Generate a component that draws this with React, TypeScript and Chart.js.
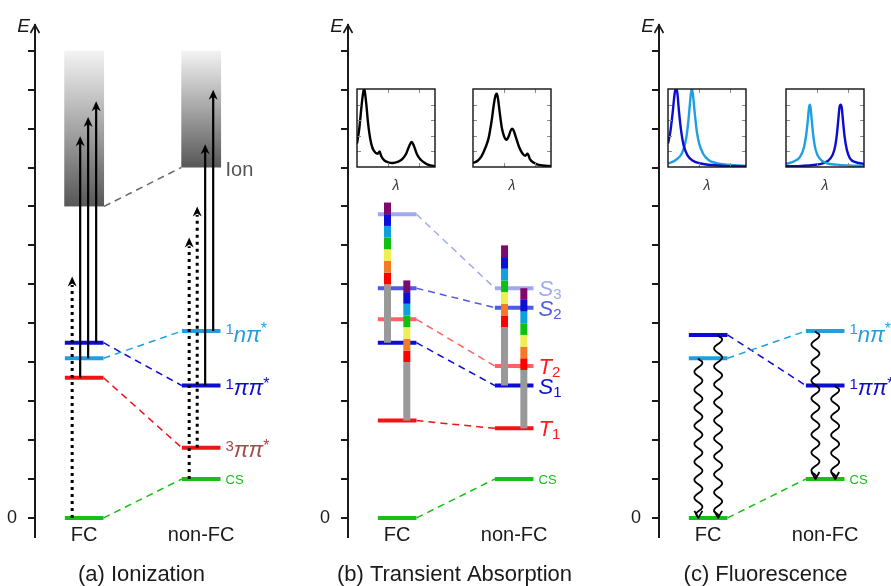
import React, { useEffect, useRef } from 'react';
import { Chart, registerables } from 'chart.js';

Chart.register(...registerables);

const FONT = '"Liberation Sans", Arial, sans-serif';
const INK = '#1a1a1a';

// ---------- categories / axis ----------
const STATES = ['FC', 'non-FC'];
const STATE_X = [1, 3];
const ZERO_LABEL = '0';
const Y_MIN = -0.49;
const Y_MAX = 12.66;
const CAPTIONS = ['(a) Ionization', '(b) Transient Absorption', '(c) Fluorescence'];

// ---------- (a) Ionization ----------
// order: ground/CS, 1nπ*, 1ππ*, 3ππ*
const A_FC = [0, 4.1, 4.5, 3.6];
const A_NONFC = [1.0, 4.8, 3.4, 1.8];
const A_ION_FC = [8, 12];
const A_ION_NONFC = [9, 12];
const A_ARROW_FC_FROM = [0, 3.6, 4.1, 4.5];
const A_ARROW_FC_TO = [6.2, 9.8, 10.3, 10.7];
const A_ARROW_FC_DOTTED = [true, false, false, false];
const A_ARROW_NONFC_FROM = [1.0, 1.8, 3.4, 4.8];
const A_ARROW_NONFC_TO = [7.2, 8.0, 9.6, 11.0];
const A_ARROW_NONFC_DOTTED = [true, true, false, false];

// ---------- (b) Transient absorption ----------
// order: CS, T1, S1, T2, S2, S3
const B_FC = [0, 2.5, 4.5, 5.1, 5.9, 7.8];
const B_NONFC = [1.0, 2.3, 3.4, 3.9, 5.4, 5.9];
const B_BAR_FC_S1 = [4.5, 6.0, 6.3, 6.6, 6.9, 7.2, 7.5, 7.8, 8.1];
const B_BAR_FC_T1 = [2.5, 4.0, 4.3, 4.6, 4.9, 5.2, 5.5, 5.8, 6.1];
const B_BAR_NONFC_S1 = [3.4, 4.9, 5.2, 5.5, 5.8, 6.1, 6.4, 6.7, 7.0];
const B_BAR_NONFC_T1 = [2.3, 3.8, 4.1, 4.4, 4.7, 5.0, 5.3, 5.6, 5.9];
const B_SPEC_FC_X = [0, 0.03, 0.06, 0.08, 0.09, 0.1, 0.12, 0.14, 0.17, 0.2, 0.24, 0.265, 0.29, 0.31, 0.35, 0.4, 0.46, 0.52, 0.58, 0.63, 0.67, 0.7, 0.73, 0.77, 0.82, 0.88, 0.94, 1.0];
const B_SPEC_FC_Y = [0.3, 0.5, 0.8, 0.96, 1.0, 0.97, 0.8, 0.58, 0.36, 0.24, 0.18, 0.17, 0.2, 0.14, 0.085, 0.06, 0.052, 0.065, 0.1, 0.17, 0.27, 0.32, 0.27, 0.16, 0.09, 0.045, 0.02, 0.01];
const B_SPEC_NONFC_X = [0, 0.06, 0.11, 0.16, 0.2, 0.24, 0.27, 0.29, 0.306, 0.32, 0.34, 0.37, 0.4, 0.43, 0.46, 0.48, 0.5, 0.52, 0.55, 0.59, 0.63, 0.67, 0.7, 0.73, 0.77, 0.82, 0.89, 1.0];
const B_SPEC_NONFC_Y = [0.05, 0.08, 0.14, 0.25, 0.37, 0.6, 0.82, 0.92, 0.94, 0.88, 0.72, 0.5, 0.39, 0.35, 0.4, 0.46, 0.49, 0.47, 0.38, 0.26, 0.18, 0.145, 0.17, 0.1, 0.06, 0.035, 0.02, 0.01];

// ---------- (c) Fluorescence ----------
// order: CS, 1nπ*, 1ππ*
const C_FC = [0, 4.1, 4.7];
const C_NONFC = [1.0, 4.8, 3.4];
const C_EMIT_FC_FROM = [4.1, 4.7];
const C_EMIT_FC_TO = [0, 0];
const C_EMIT_NONFC_FROM = [4.8, 3.4];
const C_EMIT_NONFC_TO = [1.0, 1.0];
const C_SPEC_FC_PP_X = [0, 0.03, 0.06, 0.08, 0.095, 0.106, 0.12, 0.14, 0.17, 0.2, 0.25, 0.32, 0.42, 0.55, 0.7, 0.85, 1.0];
const C_SPEC_FC_PP_Y = [0.3, 0.45, 0.7, 0.9, 0.99, 1.0, 0.95, 0.72, 0.45, 0.28, 0.15, 0.08, 0.045, 0.025, 0.015, 0.01, 0.008];
const C_SPEC_FC_NP_X = [0, 0.1, 0.18, 0.23, 0.26, 0.28, 0.295, 0.306, 0.32, 0.34, 0.37, 0.4, 0.45, 0.52, 0.62, 0.75, 0.9, 1.0];
const C_SPEC_FC_NP_Y = [0.045, 0.09, 0.18, 0.35, 0.58, 0.8, 0.95, 1.0, 0.93, 0.72, 0.45, 0.3, 0.17, 0.09, 0.05, 0.03, 0.02, 0.015];
const C_SPEC_NONFC_NP_X = [0, 0.1, 0.18, 0.23, 0.26, 0.28, 0.295, 0.305, 0.315, 0.33, 0.35, 0.38, 0.43, 0.52, 0.65, 0.8, 1.0];
const C_SPEC_NONFC_NP_Y = [0.04, 0.07, 0.13, 0.25, 0.42, 0.6, 0.76, 0.8, 0.76, 0.6, 0.4, 0.22, 0.11, 0.05, 0.03, 0.02, 0.015];
const C_SPEC_NONFC_PP_X = [0, 0.2, 0.35, 0.48, 0.57, 0.62, 0.65, 0.67, 0.685, 0.7, 0.715, 0.73, 0.75, 0.78, 0.82, 0.9, 1.0];
const C_SPEC_NONFC_PP_Y = [0.01, 0.015, 0.025, 0.05, 0.11, 0.22, 0.4, 0.6, 0.76, 0.8, 0.76, 0.6, 0.4, 0.22, 0.11, 0.06, 0.04];

const INSET_X_TICKS = [0.4, 0.8];
const INSET_Y_TICKS = [0.2, 0.4, 0.6, 0.8];

// ---------- styles ----------
const GREEN = '#14c114';
const LBLUE = '#1e9fe3';
const DBLUE = '#0c0cd2';
const RED = '#f01414';
const BROWN = '#a34a4a';
const S3C = '#a1a8f0';
const S2C = '#4d5ae2';
const T2C = '#ff6262';
const TLAB = '#ff1a1a';
const A_COLORS = [GREEN, LBLUE, DBLUE, RED];
const B_COLORS = [GREEN, RED, DBLUE, T2C, S2C, S3C];
const C_COLORS = [GREEN, LBLUE, DBLUE];
const BAR_COLORS = ['#999999', '#ff0000', '#f57a26', '#eeee55', '#10c010', '#0fa0e0', '#0a10d8', '#7f0a6e'];
const HALF = 0.33;
const BOX_HALF = 0.34;
const ARROW_DX = [-0.205, -0.068, 0.068, 0.205];
const BAR_DX = [-0.165, 0.165];
const WAVE_DX = [-0.167, 0.17];

type Run = { t: string; size: number; italic?: boolean; dy: number };

function seg(data: any[], color: string, width: number, dash: number[] | undefined, order: number) {
  return {
    type: 'line', data, borderColor: color, backgroundColor: color, borderWidth: width,
    borderDash: dash || [], pointRadius: 0, fill: false, tension: 0, order, borderCapStyle: 'butt',
  };
}

function levelSets(fc: number[], nfc: number[], colors: string[]) {
  const ds: any[] = [];
  fc.forEach((e, i) => {
    ds.push(seg([{ x: STATE_X[0] - HALF, y: e }, { x: STATE_X[0] + HALF, y: e }], colors[i], 4, undefined, 1));
    ds.push(seg([{ x: STATE_X[1] - HALF, y: nfc[i] }, { x: STATE_X[1] + HALF, y: nfc[i] }], colors[i], 4, undefined, 1));
    ds.push(seg([{ x: STATE_X[0] + HALF, y: e }, { x: STATE_X[1] - HALF, y: nfc[i] }], colors[i], 1.5, [7, 5], 2));
  });
  return ds;
}

function arrowSets(state: number, from: number[], to: number[], dotted: boolean[]) {
  return from.map((f, i) =>
    seg(
      [{ x: STATE_X[state] + ARROW_DX[i], y: f }, { x: STATE_X[state] + ARROW_DX[i], y: to[i] - (dotted[i] ? 0.22 : 0.15) }],
      '#000', dotted[i] ? 3 : 2.2, dotted[i] ? [3, 4] : undefined, 0,
    ),
  );
}

function arrowHeads(state: number, to: number[]) {
  return to.map((t, i) => ({ state, dx: ARROW_DX[i], at: t }));
}

function drawRuns(ctx: CanvasRenderingContext2D, x: number, y: number, color: string, runs: Run[]) {
  ctx.fillStyle = color;
  ctx.textAlign = 'left';
  ctx.textBaseline = 'alphabetic';
  let cx = x;
  runs.forEach((r) => {
    ctx.font = `${r.italic ? 'italic ' : ''}${r.size}px ${FONT}`;
    ctx.fillText(r.t, cx, y + r.dy);
    cx += ctx.measureText(r.t).width;
  });
}

function decorPlugin(spec: any) {
  return {
    id: 'decor',
    beforeDatasetsDraw(chart: any) {
      const { ctx, scales } = chart;
      const x = scales.x, y = scales.y;
      ctx.save();
      (spec.boxes || []).forEach((b: any) => {
        const x0 = x.getPixelForValue(STATE_X[b.state] - BOX_HALF);
        const x1 = x.getPixelForValue(STATE_X[b.state] + BOX_HALF);
        const yt = y.getPixelForValue(b.to);
        const yb = y.getPixelForValue(b.from);
        const g = ctx.createLinearGradient(0, yt, 0, yb);
        g.addColorStop(0, '#f3f3f3');
        g.addColorStop(1, '#575757');
        ctx.fillStyle = g;
        ctx.fillRect(x0, yt, x1 - x0, yb - yt);
      });
      ctx.restore();
    },
    afterDatasetsDraw(chart: any) {
      const { ctx, scales } = chart;
      const x = scales.x, y = scales.y;
      ctx.save();
      // absorption bars
      (spec.bars || []).forEach((b: any) => {
        const px = x.getPixelForValue(STATE_X[b.state] + b.dx);
        for (let i = 0; i < b.edges.length - 1; i++) {
          const y0 = y.getPixelForValue(b.edges[i]);
          const y1 = y.getPixelForValue(b.edges[i + 1]);
          ctx.fillStyle = BAR_COLORS[i];
          ctx.fillRect(px - 3.5, y1, 7, y0 - y1);
        }
      });
      // arrow heads (up)
      ctx.fillStyle = '#000';
      (spec.heads || []).forEach((h: any) => {
        const px = x.getPixelForValue(STATE_X[h.state] + h.dx);
        const py = y.getPixelForValue(h.at);
        ctx.beginPath();
        ctx.moveTo(px, py);
        ctx.lineTo(px - 4.5, py + 10);
        ctx.lineTo(px, py + 7);
        ctx.lineTo(px + 4.5, py + 10);
        ctx.closePath();
        ctx.fill();
      });
      // wavy emission arrows (down)
      ctx.strokeStyle = '#000';
      ctx.lineWidth = 1.8;
      ctx.lineJoin = 'round';
      (spec.waves || []).forEach((w: any) => {
        const px = x.getPixelForValue(STATE_X[w.state] + w.dx);
        const p0 = y.getPixelForValue(w.from);
        const p1 = y.getPixelForValue(w.to);
        const len = p1 - p0;
        const WL = 18;
        ctx.beginPath();
        for (let t = 0; t <= len; t += 0.5) {
          const amp = 4 * Math.min(1, t / 3, (len - t) / 6);
          const xx = px + amp * Math.sin((t / WL) * Math.PI * 2);
          if (t === 0) ctx.moveTo(xx, p0 + t);
          else ctx.lineTo(xx, p0 + t);
        }
        ctx.lineTo(px, p1);
        ctx.stroke();
        ctx.beginPath();
        ctx.moveTo(px - 4, p1 - 7);
        ctx.lineTo(px, p1);
        ctx.lineTo(px + 4, p1 - 7);
        ctx.stroke();
      });
      ctx.restore();
    },
    afterDraw(chart: any) {
      const { ctx, scales, chartArea } = chart;
      const x = scales.x, y = scales.y;
      ctx.save();
      // axis arrow
      ctx.strokeStyle = INK;
      ctx.lineWidth = 1.6;
      ctx.beginPath();
      ctx.moveTo(chartArea.left - 4.5, chartArea.top + 8);
      ctx.lineTo(chartArea.left, chartArea.top);
      ctx.lineTo(chartArea.left + 4.5, chartArea.top + 8);
      ctx.stroke();
      ctx.fillStyle = INK;
      ctx.font = `italic 19px ${FONT}`;
      ctx.textAlign = 'right';
      ctx.textBaseline = 'alphabetic';
      ctx.fillText('E', chartArea.left - 5, chartArea.top + 7);
      // category labels (x ticks)
      ctx.font = `20px ${FONT}`;
      ctx.textAlign = 'center';
      ctx.textBaseline = 'middle';
      x.ticks.forEach((t: any) => {
        const i = STATE_X.indexOf(t.value);
        if (i >= 0) ctx.fillText(STATES[i], x.getPixelForValue(t.value), chartArea.bottom - 2);
      });
      // caption (sub-figure title)
      ctx.font = `22px ${FONT}`;
      ctx.fillText(spec.caption, (chartArea.left + chartArea.right) / 2, x.bottom - 11);
      const lx = x.getPixelForValue(STATE_X[1] + HALF) + 5;
      (spec.labels || []).forEach((l: any) => {
        drawRuns(ctx, lx, y.getPixelForValue(l.e), l.color, l.runs);
      });
      ctx.restore();
    },
  };
}

function mainConfig(spec: any): any {
  return {
    type: 'line',
    data: { datasets: spec.datasets },
    options: {
      animation: false,
      responsive: false,
      maintainAspectRatio: false,
      events: [],
      layout: { padding: { top: 25, right: spec.padRight, bottom: 0, left: 0 } },
      plugins: { legend: { display: false }, tooltip: { enabled: false } },
      scales: {
        x: {
          type: 'linear', min: 0.16, max: 3.8,
          grid: { display: false, drawTicks: false },
          border: { display: false },
          ticks: { display: false },
          afterBuildTicks: (s: any) => { s.ticks = STATE_X.map((v) => ({ value: v })); },
          afterFit: (s: any) => { s.height = 49; },
        },
        y: {
          type: 'linear', min: Y_MIN, max: Y_MAX,
          grid: { drawOnChartArea: false, drawTicks: true, tickLength: 7, lineWidth: 2, color: INK },
          border: { display: true, width: 2, color: INK },
          ticks: {
            stepSize: 1, includeBounds: false, autoSkip: false, padding: 11, color: INK,
            font: { family: FONT, size: 18 },
            callback: (v: number) => (v === 0 ? ZERO_LABEL : ''),
          },
          afterFit: (s: any) => { s.width = 35; },
        },
      },
    },
    plugins: [decorPlugin(spec)],
  };
}

const framePlugin = {
  id: 'frame',
  afterDraw(chart: any) {
    const { ctx, chartArea: a } = chart;
    const x = chart.scales.x, y = chart.scales.y;
    ctx.save();
    ctx.strokeStyle = '#8a8a8a';
    ctx.lineWidth = 1;
    INSET_X_TICKS.forEach((v) => {
      const px = Math.round(x.getPixelForValue(v)) + 0.5;
      ctx.beginPath(); ctx.moveTo(px, a.top); ctx.lineTo(px, a.top + 4); ctx.stroke();
      ctx.beginPath(); ctx.moveTo(px, a.bottom); ctx.lineTo(px, a.bottom - 4); ctx.stroke();
    });
    INSET_Y_TICKS.forEach((v) => {
      const py = Math.round(y.getPixelForValue(v)) + 0.5;
      ctx.beginPath(); ctx.moveTo(a.left, py); ctx.lineTo(a.left + 4, py); ctx.stroke();
      ctx.beginPath(); ctx.moveTo(a.right, py); ctx.lineTo(a.right - 4, py); ctx.stroke();
    });
    ctx.strokeStyle = '#111';
    ctx.lineWidth = 1.4;
    ctx.strokeRect(a.left, a.top, a.right - a.left, a.bottom - a.top);
    ctx.restore();
  },
};

function insetConfig(curves: { x: number[]; y: number[]; color: string }[]): any {
  return {
    type: 'line',
    data: {
      datasets: curves.map((c) => ({
        data: c.x.map((xv, i) => ({ x: xv, y: c.y[i] })),
        borderColor: c.color, borderWidth: 2.4, pointRadius: 0, fill: false,
        cubicInterpolationMode: 'monotone',
      })),
    },
    options: {
      animation: false, responsive: false, maintainAspectRatio: false, events: [],
      layout: { padding: { top: 2, left: 2, right: 2, bottom: 0 } },
      plugins: { legend: { display: false }, tooltip: { enabled: false } },
      scales: {
        x: {
          type: 'linear', min: 0, max: 1,
          grid: { display: false, drawTicks: false }, border: { display: false }, ticks: { display: false },
          afterFit: (s: any) => { s.height = 30; },
          title: {
            display: true, text: 'λ', color: '#333',
            font: { family: FONT, size: 14, style: 'italic', lineHeight: 1.2 }, padding: { top: 0, bottom: 2 },
          },
        },
        y: { display: false, min: 0, max: 1 },
      },
    },
    plugins: [framePlugin],
  };
}

function ChartCanvas({ left, top, width, height, build }: { left: number; top: number; width: number; height: number; build: () => any }) {
  const ref = useRef<HTMLCanvasElement>(null);
  useEffect(() => {
    const chart = new Chart(ref.current as HTMLCanvasElement, build());
    return () => chart.destroy();
  }, []);
  return (
    <canvas
      ref={ref}
      width={width}
      height={height}
      style={{ position: 'absolute', left, top, width, height }}
    />
  );
}

const supRun = (t: string): Run => ({ t, size: 15, dy: 3 });
const starRun: Run = { t: '*', size: 16, dy: 3 };
const csRun: Run = { t: 'CS', size: 13, dy: 5 };

function specA() {
  return {
    caption: CAPTIONS[0],
    padRight: 65,
    datasets: [
      ...arrowSets(0, A_ARROW_FC_FROM, A_ARROW_FC_TO, A_ARROW_FC_DOTTED),
      ...arrowSets(1, A_ARROW_NONFC_FROM, A_ARROW_NONFC_TO, A_ARROW_NONFC_DOTTED),
      ...levelSets(A_FC, A_NONFC, A_COLORS),
      seg([{ x: STATE_X[0] + BOX_HALF, y: A_ION_FC[0] }, { x: STATE_X[1] - BOX_HALF, y: A_ION_NONFC[0] }], '#666', 1.5, [7, 5], 2),
    ],
    boxes: [
      { state: 0, from: A_ION_FC[0], to: A_ION_FC[1] },
      { state: 1, from: A_ION_NONFC[0], to: A_ION_NONFC[1] },
    ],
    heads: [...arrowHeads(0, A_ARROW_FC_TO), ...arrowHeads(1, A_ARROW_NONFC_TO)],
    labels: [
      { e: A_NONFC[1], color: LBLUE, runs: [supRun('1'), { t: 'nπ', size: 22, italic: true, dy: 11 }, starRun] },
      { e: A_NONFC[2], color: DBLUE, runs: [supRun('1'), { t: 'ππ', size: 22, italic: true, dy: 9 }, starRun] },
      { e: A_NONFC[3], color: BROWN, runs: [supRun('3'), { t: 'ππ', size: 22, italic: true, dy: 9 }, starRun] },
      { e: A_NONFC[0], color: GREEN, runs: [csRun] },
      { e: A_ION_NONFC[0], color: '#555', runs: [{ t: 'Ion', size: 20, dy: 8 }] },
    ],
  };
}

function specB() {
  return {
    caption: CAPTIONS[1],
    padRight: 63,
    datasets: [...levelSets(B_FC, B_NONFC, B_COLORS)],
    bars: [
      { state: 0, dx: BAR_DX[0], edges: B_BAR_FC_S1 },
      { state: 0, dx: BAR_DX[1], edges: B_BAR_FC_T1 },
      { state: 1, dx: BAR_DX[0], edges: B_BAR_NONFC_S1 },
      { state: 1, dx: BAR_DX[1], edges: B_BAR_NONFC_T1 },
    ],
    labels: [
      { e: B_NONFC[5], color: S3C, runs: [{ t: 'S', size: 22, italic: true, dy: 8 }, { t: '3', size: 15, dy: 11 }] },
      { e: B_NONFC[4], color: S2C, runs: [{ t: 'S', size: 22, italic: true, dy: 8 }, { t: '2', size: 15, dy: 11 }] },
      { e: B_NONFC[3], color: TLAB, runs: [{ t: 'T', size: 22, italic: true, dy: 8 }, { t: '2', size: 15, dy: 11 }] },
      { e: B_NONFC[2], color: DBLUE, runs: [{ t: 'S', size: 22, italic: true, dy: 8 }, { t: '1', size: 15, dy: 11 }] },
      { e: B_NONFC[1], color: TLAB, runs: [{ t: 'T', size: 22, italic: true, dy: 8 }, { t: '1', size: 15, dy: 11 }] },
      { e: B_NONFC[0], color: GREEN, runs: [csRun] },
    ],
  };
}

function specC() {
  return {
    caption: CAPTIONS[2],
    padRight: 19,
    datasets: [...levelSets(C_FC, C_NONFC, C_COLORS)],
    waves: [
      ...C_EMIT_FC_FROM.map((f, i) => ({ state: 0, dx: WAVE_DX[i], from: f, to: C_EMIT_FC_TO[i] })),
      ...C_EMIT_NONFC_FROM.map((f, i) => ({ state: 1, dx: WAVE_DX[i], from: f, to: C_EMIT_NONFC_TO[i] })),
    ],
    labels: [
      { e: C_NONFC[1], color: LBLUE, runs: [supRun('1'), { t: 'nπ', size: 22, italic: true, dy: 11 }, starRun] },
      { e: C_NONFC[2], color: DBLUE, runs: [supRun('1'), { t: 'ππ', size: 22, italic: true, dy: 9 }, starRun] },
      { e: C_NONFC[0], color: GREEN, runs: [csRun] },
    ],
  };
}

export default function App() {
  return (
    <div style={{ position: 'absolute', left: 0, top: 0, width: 891, height: 586, background: '#fff', overflow: 'hidden' }}>
      <ChartCanvas left={0} top={0} width={313} height={586} build={() => mainConfig(specA())} />
      <ChartCanvas left={313} top={0} width={311} height={586} build={() => mainConfig(specB())} />
      <ChartCanvas left={624} top={0} width={267} height={586} build={() => mainConfig(specC())} />
      <ChartCanvas left={355} top={87} width={82} height={110}
        build={() => insetConfig([{ x: B_SPEC_FC_X, y: B_SPEC_FC_Y, color: '#000' }])} />
      <ChartCanvas left={471} top={87} width={82} height={110}
        build={() => insetConfig([{ x: B_SPEC_NONFC_X, y: B_SPEC_NONFC_Y, color: '#000' }])} />
      <ChartCanvas left={666} top={87} width={82} height={110}
        build={() => insetConfig([
          { x: C_SPEC_FC_PP_X, y: C_SPEC_FC_PP_Y, color: DBLUE },
          { x: C_SPEC_FC_NP_X, y: C_SPEC_FC_NP_Y, color: LBLUE },
        ])} />
      <ChartCanvas left={784} top={87} width={82} height={110}
        build={() => insetConfig([
          { x: C_SPEC_NONFC_NP_X, y: C_SPEC_NONFC_NP_Y, color: LBLUE },
          { x: C_SPEC_NONFC_PP_X, y: C_SPEC_NONFC_PP_Y, color: DBLUE },
        ])} />
    </div>
  );
}
